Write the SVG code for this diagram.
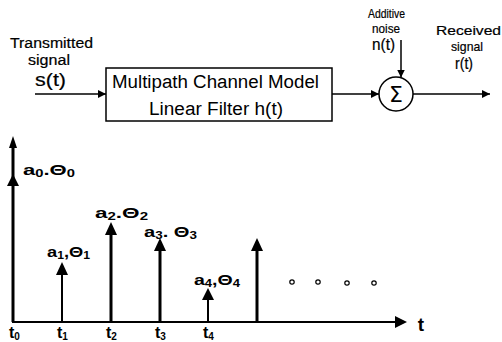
<svg xmlns="http://www.w3.org/2000/svg" width="502" height="342" viewBox="0 0 502 342">
<style>
.lbl{font-family:"Liberation Sans",Arial,sans-serif;font-size:14px;fill:#000;stroke:#000;stroke-width:0.2}
.box{font-family:"Liberation Sans",Arial,sans-serif;font-size:18px;fill:#000}
.sub{font-family:"Liberation Sans",Arial,sans-serif;font-size:15px;font-weight:bold;fill:#000}
.tl{font-family:"Liberation Sans",Arial,sans-serif;font-size:16px;font-weight:bold;fill:#000}
.ln{stroke:#000;fill:none}
.tri{fill:#000}
.dot{fill:none;stroke:#000;stroke-width:1.2}
</style>
<defs>
<marker id="ah" viewBox="0 0 10 10" refX="10" refY="5" markerWidth="8" markerHeight="8" markerUnits="userSpaceOnUse" orient="auto"><path d="M0,0 L10,5 L0,10 z" fill="#000"/></marker>
</defs>
<g id="label-transmitted">
<text class="lbl" x="10" y="48" textLength="83" lengthAdjust="spacingAndGlyphs">Transmitted</text>
<text class="lbl" x="28" y="65" textLength="42" lengthAdjust="spacingAndGlyphs">signal</text>
<text class="lbl" x="35" y="86" style="font-size:18px" textLength="31" lengthAdjust="spacingAndGlyphs">s(t)</text>
</g>
<g id="channel">
<rect x="106" y="68" width="226" height="53" fill="none" stroke="#000" stroke-width="1.5"/>
<text class="box" x="112" y="88" textLength="207" lengthAdjust="spacingAndGlyphs">Multipath Channel Model</text>
<text class="box" x="149" y="115" textLength="134" lengthAdjust="spacingAndGlyphs">Linear Filter h(t)</text>
</g>
<g id="label-noise">
<text class="lbl" x="368" y="18" style="font-size:12px" textLength="37" lengthAdjust="spacingAndGlyphs">Additive</text>
<text class="lbl" x="372" y="33" style="font-size:12px" textLength="28" lengthAdjust="spacingAndGlyphs">noise</text>
<text class="lbl" x="372" y="50" style="font-size:16px" textLength="23" lengthAdjust="spacingAndGlyphs">n(t)</text>
</g>
<g id="sum">
<circle cx="396" cy="94" r="17" fill="none" stroke="#000" stroke-width="1.5"/>
<text x="396" y="102" style="font-family:'DejaVu Sans',sans-serif;font-size:22px;text-anchor:middle">Σ</text>
</g>
<g id="label-received">
<text class="lbl" x="436" y="35" style="font-size:13px" textLength="65" lengthAdjust="spacingAndGlyphs">Received</text>
<text class="lbl" x="451" y="51" style="font-size:13px" textLength="32" lengthAdjust="spacingAndGlyphs">signal</text>
<text class="lbl" x="455" y="69" style="font-size:16px" textLength="18" lengthAdjust="spacingAndGlyphs">r(t)</text>
</g>
<g id="connectors">
<line class="ln" x1="35" y1="94" x2="106" y2="94" stroke-width="1.5" marker-end="url(#ah)"/>
<line class="ln" x1="332" y1="94" x2="379" y2="94" stroke-width="1.5" marker-end="url(#ah)"/>
<line class="ln" x1="401" y1="40" x2="401" y2="77.5" stroke-width="1.5" marker-end="url(#ah)"/>
<line class="ln" x1="413" y1="94" x2="490" y2="94" stroke-width="1.5" marker-end="url(#ah)"/>
</g>
<g id="plot">
<line class="ln" x1="12" y1="322" x2="395" y2="322" stroke-width="2"/>
<path class="tri" d="M395,316 L407,322 L395,328 z"/>
<text x="421" y="331" style="font-family:'Liberation Sans',Arial,sans-serif;font-size:19px;font-weight:bold;text-anchor:middle">t</text>
<line class="ln" x1="13" y1="322" x2="13" y2="145" stroke-width="3"/>
<path class="tri" d="M9,148 L13,136 L17,148 z"/>
<path class="tri" d="M7,186 L13,174 L19,186 z"/>
<line class="ln" x1="62" y1="322" x2="62" y2="270" stroke-width="2"/>
<path class="tri" d="M56,275 L62,262 L68,275 z"/>
<line class="ln" x1="111" y1="322" x2="111" y2="230" stroke-width="3"/>
<path class="tri" d="M105,235 L111,222 L117,235 z"/>
<line class="ln" x1="160" y1="322" x2="160" y2="245" stroke-width="3"/>
<path class="tri" d="M154,251 L160,238 L166,251 z"/>
<line class="ln" x1="208" y1="322" x2="208" y2="295" stroke-width="2"/>
<path class="tri" d="M202,300 L208,288 L214,300 z"/>
<line class="ln" x1="257" y1="322" x2="257" y2="245" stroke-width="3"/>
<path class="tri" d="M251,251 L257,238 L263,251 z"/>
<circle class="dot" cx="292" cy="282" r="2.2"/>
<circle class="dot" cx="318" cy="282" r="2.2"/>
<circle class="dot" cx="347" cy="283" r="2.2"/>
<circle class="dot" cx="374" cy="283" r="2.2"/>
<text class="sub" x="23" y="175" textLength="52" lengthAdjust="spacingAndGlyphs">a<tspan font-size="10" dy="2">0</tspan><tspan dy="-2">.Θ</tspan><tspan font-size="10" dy="2">0</tspan></text>
<text class="sub" x="47" y="257" textLength="43" lengthAdjust="spacingAndGlyphs">a<tspan font-size="10" dy="2">1</tspan><tspan dy="-2">,Θ</tspan><tspan font-size="10" dy="2">1</tspan></text>
<text class="sub" x="95" y="218" textLength="53" lengthAdjust="spacingAndGlyphs">a<tspan font-size="10" dy="2">2</tspan><tspan dy="-2">.Θ</tspan><tspan font-size="10" dy="2">2</tspan></text>
<text class="sub" x="144" y="237" textLength="53" lengthAdjust="spacingAndGlyphs">a<tspan font-size="10" dy="2">3</tspan><tspan dy="-2">. Θ</tspan><tspan font-size="10" dy="2">3</tspan></text>
<text class="sub" x="194" y="285" textLength="46" lengthAdjust="spacingAndGlyphs">a<tspan font-size="10" dy="2">4</tspan><tspan dy="-2">,Θ</tspan><tspan font-size="10" dy="2">4</tspan></text>
<text class="tl" x="9" y="338">t<tspan font-size="10" dy="2">0</tspan></text>
<text class="tl" x="57" y="338">t<tspan font-size="10" dy="2">1</tspan></text>
<text class="tl" x="106" y="338">t<tspan font-size="10" dy="2">2</tspan></text>
<text class="tl" x="155" y="338">t<tspan font-size="10" dy="2">3</tspan></text>
<text class="tl" x="203" y="338">t<tspan font-size="10" dy="2">4</tspan></text>
</g>
</svg>
